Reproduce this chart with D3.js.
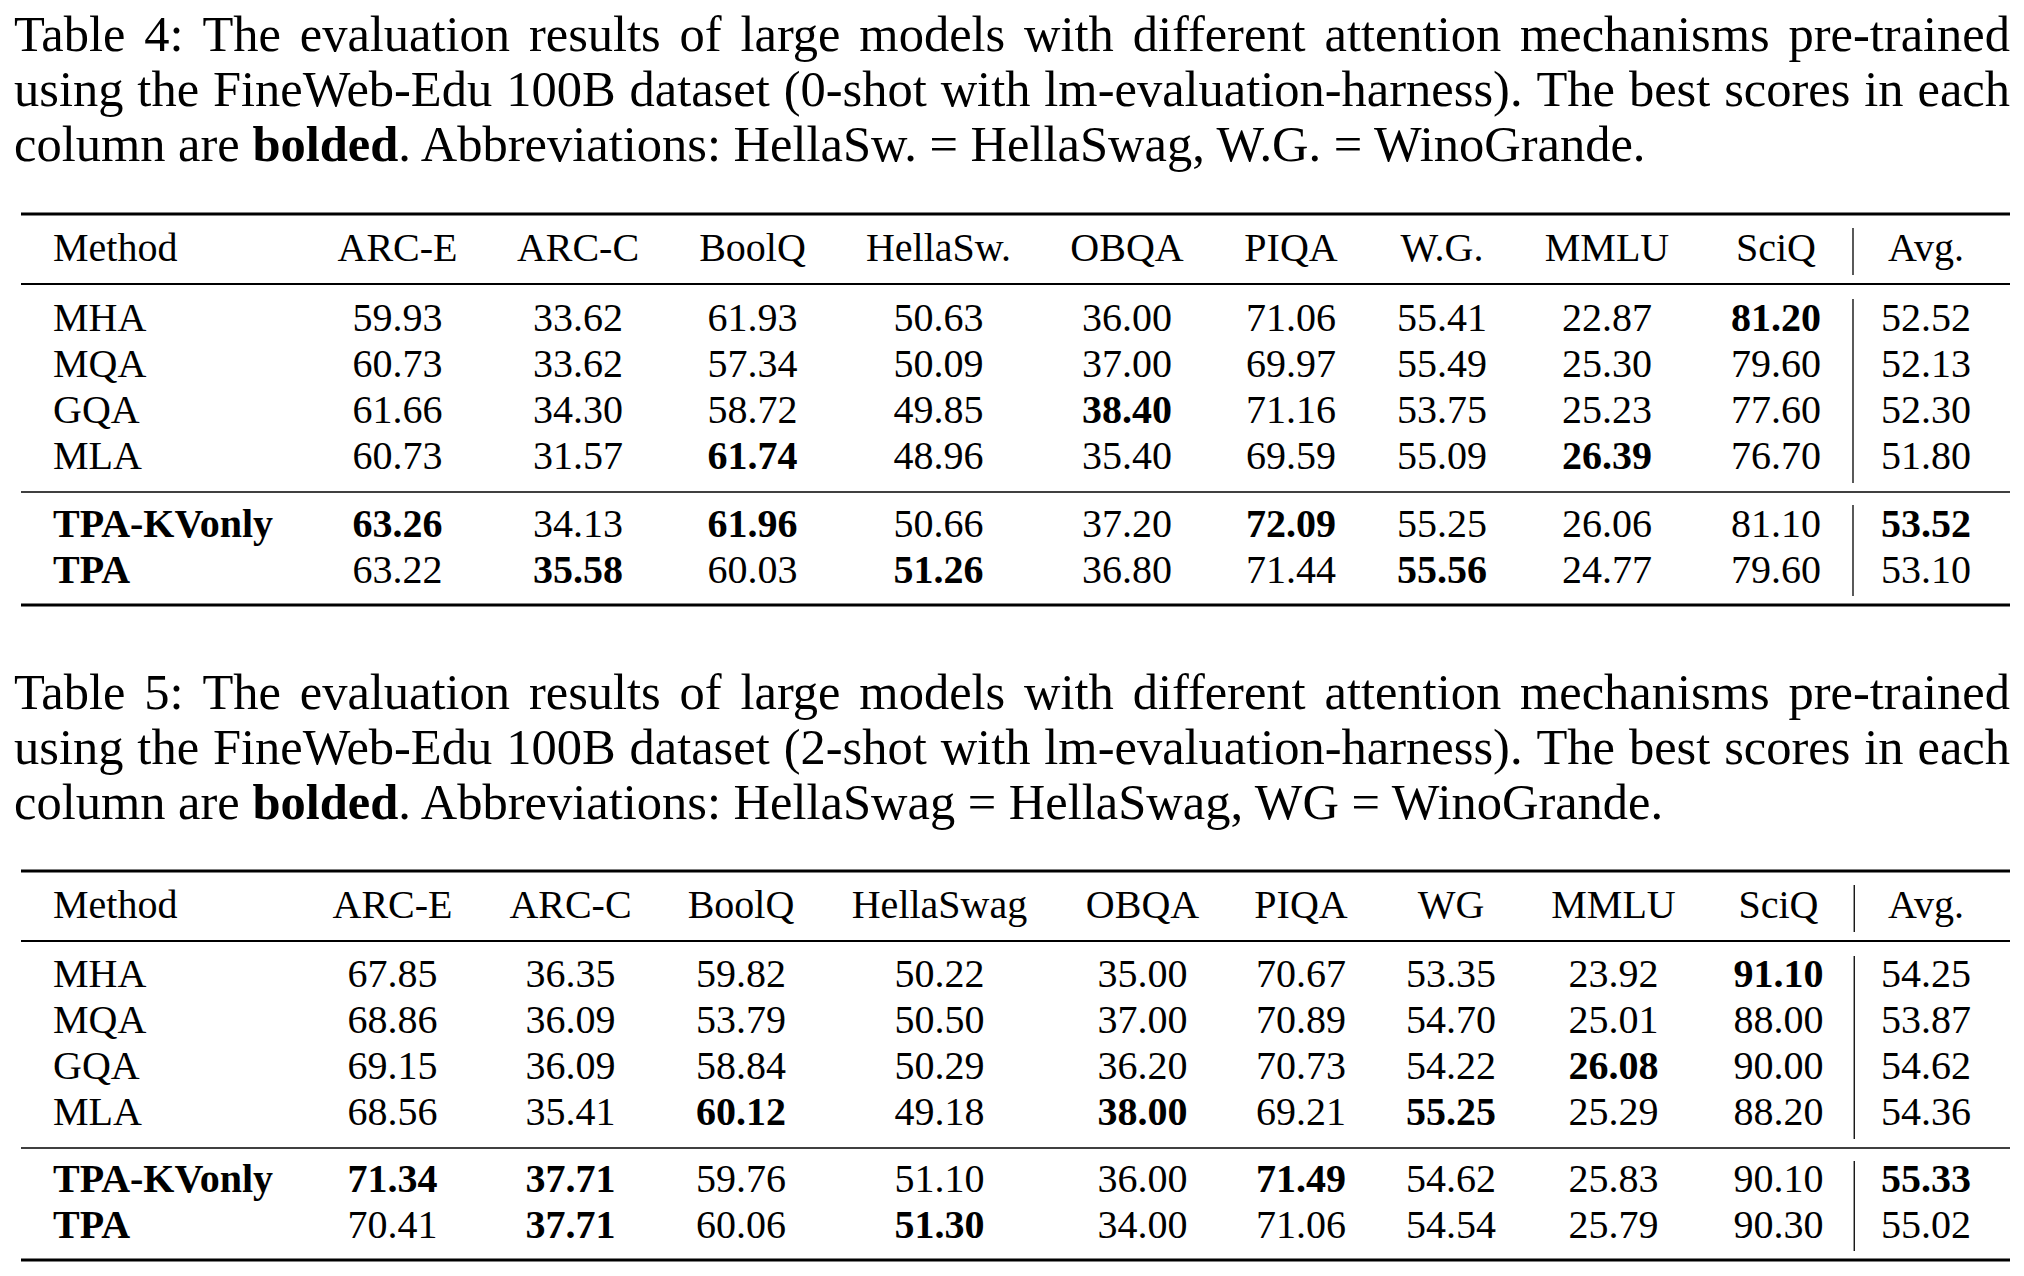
<!DOCTYPE html>
<html><head><meta charset="utf-8">
<script src="https://cdn.jsdelivr.net/npm/d3@7"></script>
<style>html,body{margin:0;padding:0;background:#fff}</style>
</head><body>
<svg id="chart" width="2024" height="1276"></svg>
<script>
// ---------------- data ----------------
const methods = ["MHA", "MQA", "GQA", "MLA", "TPA-KVonly", "TPA"];
const boldMethods = ["TPA-KVonly", "TPA"];

const columns4 = ["ARC-E", "ARC-C", "BoolQ", "HellaSw.", "OBQA", "PIQA", "W.G.", "MMLU", "SciQ", "Avg."];
const values4 = [
  [59.93, 33.62, 61.93, 50.63, 36.00, 71.06, 55.41, 22.87, 81.20, 52.52],
  [60.73, 33.62, 57.34, 50.09, 37.00, 69.97, 55.49, 25.30, 79.60, 52.13],
  [61.66, 34.30, 58.72, 49.85, 38.40, 71.16, 53.75, 25.23, 77.60, 52.30],
  [60.73, 31.57, 61.74, 48.96, 35.40, 69.59, 55.09, 26.39, 76.70, 51.80],
  [63.26, 34.13, 61.96, 50.66, 37.20, 72.09, 55.25, 26.06, 81.10, 53.52],
  [63.22, 35.58, 60.03, 51.26, 36.80, 71.44, 55.56, 24.77, 79.60, 53.10]
];
// indices of bolded columns per row
const bold4 = [[8], [], [4], [2, 7], [0, 2, 5, 9], [1, 3, 6]];

const columns5 = ["ARC-E", "ARC-C", "BoolQ", "HellaSwag", "OBQA", "PIQA", "WG", "MMLU", "SciQ", "Avg."];
const values5 = [
  [67.85, 36.35, 59.82, 50.22, 35.00, 70.67, 53.35, 23.92, 91.10, 54.25],
  [68.86, 36.09, 53.79, 50.50, 37.00, 70.89, 54.70, 25.01, 88.00, 53.87],
  [69.15, 36.09, 58.84, 50.29, 36.20, 70.73, 54.22, 26.08, 90.00, 54.62],
  [68.56, 35.41, 60.12, 49.18, 38.00, 69.21, 55.25, 25.29, 88.20, 54.36],
  [71.34, 37.71, 59.76, 51.10, 36.00, 71.49, 54.62, 25.83, 90.10, 55.33],
  [70.41, 37.71, 60.06, 51.30, 34.00, 71.06, 54.54, 25.79, 90.30, 55.02]
];
const bold5 = [[8], [], [7], [2, 4, 6], [0, 1, 5, 9], [1, 3]];

const caption4 = [
  "Table 4:  The evaluation results of large models with different attention mechanisms pre-trained",
  "using the FineWeb-Edu 100B dataset (0-shot with lm-evaluation-harness). The best scores in each",
  [["column are ", false], ["bolded", true], [". Abbreviations: HellaSw. = HellaSwag, W.G. = WinoGrande.", false]]
];
const caption5 = [
  "Table 5:  The evaluation results of large models with different attention mechanisms pre-trained",
  "using the FineWeb-Edu 100B dataset (2-shot with lm-evaluation-harness). The best scores in each",
  [["column are ", false], ["bolded", true], [". Abbreviations: HellaSwag = HellaSwag, WG = WinoGrande.", false]]
];

// ---------------- layout ----------------
const FONT = "'Liberation Serif', 'Times New Roman', Times, serif";
const svg = d3.select("#chart");
svg.append("rect").attr("width", 2024).attr("height", 1276).attr("fill", "#fff");

const capSize = 50.5, tabSize = 40, capLead = 55;
const capLeft = 14, capRight = 2010;
const ruleLeft = 21, ruleRight = 2010;

function drawCaption(lines, y0) {
  const g = svg.append("g").attr("font-family", FONT).attr("font-size", capSize).attr("fill", "#000");
  lines.forEach((line, i) => {
    const y = y0 + i * capLead;
    if (typeof line === "string") {
      // justified: place words individually
      const words = line.split(/\s+/);
      const nodes = words.map(w => g.append("text").attr("y", y).text(w));
      const widths = nodes.map(n => n.node().getComputedTextLength());
      const total = d3.sum(widths);
      const gap = (capRight - capLeft - total) / (words.length - 1);
      let x = capLeft;
      nodes.forEach((n, k) => { n.attr("x", x); x += widths[k] + gap; });
    } else {
      const t = g.append("text").attr("x", capLeft).attr("y", y).attr("xml:space", "preserve");
      line.forEach(([s, b]) => t.append("tspan").attr("font-weight", b ? "bold" : "normal").text(s));
    }
  });
}

function drawTable(columns, values, bolds, colCenters, y) {
  const x = d3.scaleOrdinal().domain(columns).range(colCenters);
  const rowY = d3.scaleOrdinal().domain(methods)
    .range([y.row0, y.row0 + 46, y.row0 + 92, y.row0 + 138, y.tpa0, y.tpa0 + 46]);
  const g = svg.append("g").attr("font-family", FONT).attr("font-size", tabSize).attr("fill", "#000");

  // rules
  const rules = [[y.top, 3], [y.head, 2], [y.mid, 1.3], [y.bottom, 3]];
  g.selectAll(".rule").data(rules).join("line")
    .attr("x1", ruleLeft).attr("x2", ruleRight)
    .attr("y1", d => d[0]).attr("y2", d => d[0])
    .attr("stroke", "#000").attr("stroke-width", d => d[1]);

  // vertical separator between SciQ and Avg.
  const vx = (x(columns[8]) + x(columns[9])) / 2 + 2;
  const segs = [[y.top + 14, y.head - 9], [y.head + 15, y.mid - 9], [y.mid + 13, y.bottom - 9]];
  g.selectAll(".vsep").data(segs).join("line")
    .attr("x1", vx).attr("x2", vx).attr("y1", d => d[0]).attr("y2", d => d[1])
    .attr("stroke", "#000").attr("stroke-width", 1.3);

  // header
  g.append("text").attr("x", 53).attr("y", y.header).text("Method");
  g.selectAll(".hdr").data(columns).join("text")
    .attr("x", d => x(d)).attr("y", y.header).attr("text-anchor", "middle").text(d => d);

  // rows
  methods.forEach((m, r) => {
    g.append("text").attr("x", 53).attr("y", rowY(m))
      .attr("font-weight", boldMethods.includes(m) ? "bold" : "normal").text(m);
    g.selectAll(null).data(values[r]).join("text")
      .attr("x", (d, c) => x(columns[c])).attr("y", rowY(m))
      .attr("text-anchor", "middle")
      .attr("font-weight", (d, c) => bolds[r].includes(c) ? "bold" : "normal")
      .text(d => d3.format(".2f")(d));
  });
}

drawCaption(caption4, 51);
drawTable(columns4, values4, bold4,
  [397.5, 578, 752.5, 938.5, 1127, 1291, 1442, 1607, 1776, 1926],
  {top: 214, header: 261, head: 284, row0: 331, mid: 492, tpa0: 537, bottom: 605});

drawCaption(caption5, 709);
drawTable(columns5, values5, bold5,
  [392.5, 570.5, 741, 939.5, 1142.5, 1301, 1451, 1613.5, 1778.5, 1926],
  {top: 871, header: 918, head: 941, row0: 987, mid: 1148, tpa0: 1192, bottom: 1260});
</script>
</body></html>
